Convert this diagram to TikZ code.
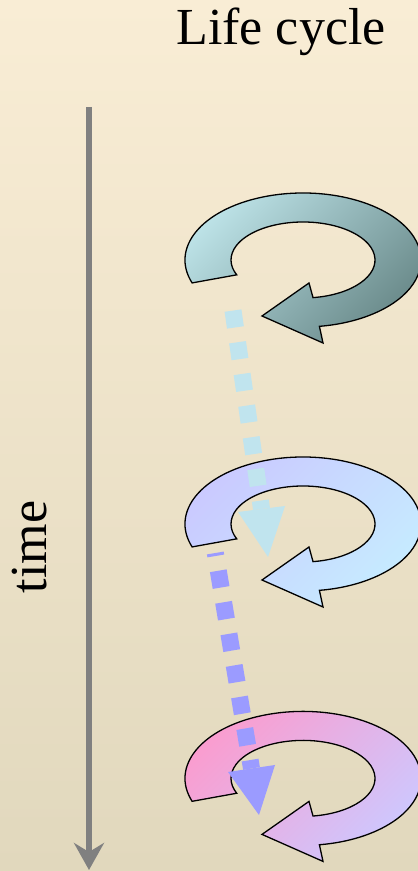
\documentclass[tikz,border=0pt]{standalone}
\usepackage{fontspec}
\setmainfont{Liberation Serif}
\usetikzlibrary{arrows.meta}
\definecolor{bgtop}{RGB}{249,237,213}
\definecolor{bgbot}{RGB}{225,216,189}
\definecolor{axisgray}{RGB}{128,128,128}
\definecolor{rAa}{RGB}{192,230,235}
\definecolor{rAb}{RGB}{105,137,137}
\definecolor{rBa}{RGB}{202,200,255}
\definecolor{rBb}{RGB}{198,236,255}
\definecolor{rCa}{RGB}{252,155,205}
\definecolor{rCb}{RGB}{205,200,255}
\definecolor{dotA}{RGB}{192,228,238}
\definecolor{dotB}{RGB}{155,155,255}
\tikzset{
  ringline/.style={draw=black, line width=1.3pt, line join=miter},
  dotline/.style={line width=17pt, dash pattern=on 17pt off 15pt},
  bigfont/.style={font=\fontsize{52}{52}\selectfont}
}
\newcommand\lcring[4]{%
  \begin{scope}[shift={(#1,#2)}]
    \draw[ringline, top color=#3, bottom color=#4, shading angle=45]
      (200:118 and 67) arc[start angle=200, end angle=-82, x radius=118, y radius=67]
      -- (20,-83) -- (-41,-56) -- (6,-23) -- (-82:72 and 38)
      arc[start angle=-82, end angle=203, x radius=72, y radius=38] -- cycle;
  \end{scope}}
\begin{document}
\begin{tikzpicture}[x=1pt,y=1pt]
\useasboundingbox (0,0) rectangle (418,871);
\shade[top color=bgtop, bottom color=bgbot] (0,0) rectangle (418,871);

% title and time axis
\node[bigfont, anchor=base] (title) at (281,826) {Life cycle};
\coordinate (tTop) at (89,764);
\coordinate (tEnd) at (89,1);
\draw[axisgray, line width=5.5pt, -{Stealth[length=27pt,width=30pt,inset=9pt]}] (tTop) -- (tEnd);
\node[bigfont, rotate=90, anchor=base] (time) at (46.7,324) {time};

% rings
\lcring{303}{611}{rAa}{rAb}
\lcring{303}{347}{rBa}{rBb}
\lcring{303}{92.6}{rCa}{rCb}

% dotted arrow 1
\coordinate (a1s) at (233,560.4);
\coordinate (a1e) at (261.5,362);
\draw[dotline, dotA] (a1s) -- (a1e);
\coordinate (a1l) at (238,359);
\coordinate (a1r) at (285,365);
\coordinate (a1t) at (268,314);
\fill[dotA] (a1l) -- (a1r) -- (a1t) -- cycle;

% dotted arrow 2
\coordinate (a2s) at (215.3,318);
\coordinate (a2e) at (251.5,102.5);
\draw[dotline, dotB, dash phase=14pt] (a2s) -- (a2e);
\coordinate (a2l) at (228,99);
\coordinate (a2r) at (275,106);
\coordinate (a2t) at (259,56);
\fill[dotB] (a2l) -- (a2r) -- (a2t) -- cycle;
\end{tikzpicture}
\end{document}
